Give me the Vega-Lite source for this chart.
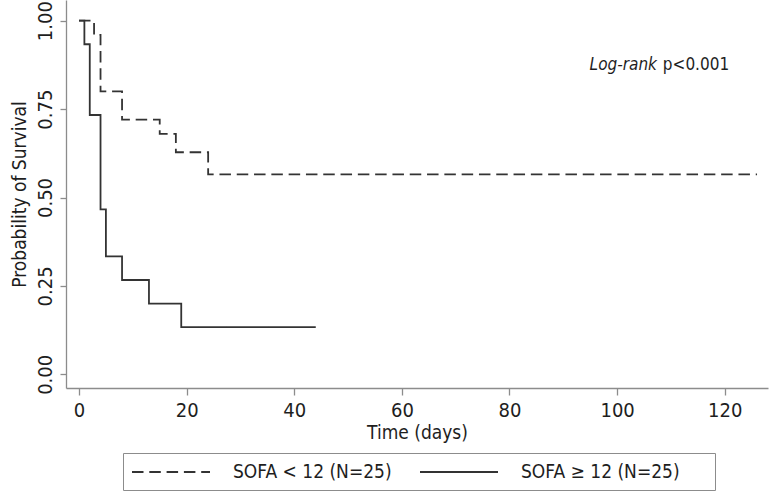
{
  "$schema": "https://vega.github.io/schema/vega-lite/v6.json",
  "width": 702,
  "height": 388,
  "autosize": {"type": "none"},
  "padding": {"left": 66, "top": 0, "right": 3, "bottom": 105},
  "background": "white",
  "config": {
    "font": "DejaVu Sans Condensed, sans-serif",
    "view": {"stroke": null},
    "axis": {
      "domainColor": "#8c8c8c",
      "domainWidth": 1.3,
      "tickColor": "#8c8c8c",
      "tickWidth": 1.3,
      "grid": false,
      "labelColor": "#1e1e1e",
      "titleColor": "#1e1e1e",
      "labelFontSize": 20,
      "titleFontSize": 19,
      "titleFontWeight": "normal",
      "labelFont": "DejaVu Sans Condensed, sans-serif",
      "titleFont": "DejaVu Sans Condensed, sans-serif"
    }
  },
  "layer": [
    {
      "data": {
        "values": [
          {"time": 0, "surv": 1.0, "group": "SOFA < 12 (N=25)"},
          {"time": 2.8, "surv": 0.96, "group": "SOFA < 12 (N=25)"},
          {"time": 4, "surv": 0.8, "group": "SOFA < 12 (N=25)"},
          {"time": 8, "surv": 0.72, "group": "SOFA < 12 (N=25)"},
          {"time": 15, "surv": 0.68, "group": "SOFA < 12 (N=25)"},
          {"time": 18, "surv": 0.628, "group": "SOFA < 12 (N=25)"},
          {"time": 24, "surv": 0.5655, "group": "SOFA < 12 (N=25)"},
          {"time": 126, "surv": 0.5655, "group": "SOFA < 12 (N=25)"},
          {"time": 0, "surv": 1.0, "group": "SOFA ≥ 12 (N=25)"},
          {"time": 1, "surv": 0.9333, "group": "SOFA ≥ 12 (N=25)"},
          {"time": 2, "surv": 0.7333, "group": "SOFA ≥ 12 (N=25)"},
          {"time": 4, "surv": 0.4667, "group": "SOFA ≥ 12 (N=25)"},
          {"time": 5, "surv": 0.3333, "group": "SOFA ≥ 12 (N=25)"},
          {"time": 8, "surv": 0.2667, "group": "SOFA ≥ 12 (N=25)"},
          {"time": 13, "surv": 0.2, "group": "SOFA ≥ 12 (N=25)"},
          {"time": 19, "surv": 0.1333, "group": "SOFA ≥ 12 (N=25)"},
          {"time": 44, "surv": 0.1333, "group": "SOFA ≥ 12 (N=25)"}
        ]
      },
      "mark": {"type": "line", "interpolate": "step-after", "color": "#333333", "strokeWidth": 1.8, "clip": true},
      "encoding": {
        "x": {
          "field": "time",
          "type": "quantitative",
          "scale": {"domain": [-2.416, 128.04], "nice": false, "zero": false},
          "axis": {
            "values": [0, 20, 40, 60, 80, 100, 120],
            "title": "Time (days)",
            "tickSize": 7,
            "labelPadding": 5,
            "titlePadding": 3,
            "labelFlush": false
          }
        },
        "y": {
          "field": "surv",
          "type": "quantitative",
          "scale": {"domain": [-0.0387, 1.0585], "nice": false, "zero": false},
          "axis": {
            "values": [0, 0.25, 0.5, 0.75, 1],
            "format": ".2f",
            "title": "Probability of Survival",
            "tickSize": 6,
            "labelAngle": -90,
            "labelAlign": "center",
            "labelBaseline": "alphabetic",
            "labelPadding": 9,
            "titlePadding": 6,
            "labelFlush": false
          }
        },
        "strokeDash": {
          "field": "group",
          "type": "nominal",
          "scale": {"domain": ["SOFA < 12 (N=25)", "SOFA ≥ 12 (N=25)"], "range": [[11.5, 5.8], [1, 0]]},
          "legend": {
            "title": " ",
            "titleOrient": "right",
            "titlePadding": 27,
            "titleFontSize": 19,
            "orient": "none",
            "legendX": 57,
            "legendY": 453,
            "direction": "horizontal",
            "strokeColor": "#8c8c8c",
            "padding": 8,
            "symbolType": "M-1,0H6.8",
            "symbolSize": 400,
            "symbolStrokeWidth": 1.8,
            "symbolStrokeColor": "#333333",
            "labelFontSize": 19,
            "labelColor": "#1e1e1e",
            "labelFont": "DejaVu Sans Condensed, sans-serif",
            "labelOffset": 80,
            "columnPadding": 24,
            "labelLimit": 400,
            "encode": {
              "symbols": {
                "update": {
                  "strokeDash": {"signal": "datum.value === 'SOFA < 12 (N=25)' ? [8, 5] : [1, 0]"}
                }
              }
            }
          }
        }
      }
    },
    {
      "data": {"values": [{}]},
      "mark": {"type": "text", "align": "right", "baseline": "middle", "fontStyle": "italic", "fontSize": 17, "color": "#1e1e1e", "font": "DejaVu Sans Condensed, sans-serif"},
      "encoding": {
        "x": {"datum": 107.4, "type": "quantitative"},
        "y": {"datum": 0.875, "type": "quantitative"},
        "text": {"value": "Log-rank"}
      }
    },
    {
      "data": {"values": [{}]},
      "mark": {"type": "text", "align": "left", "baseline": "middle", "fontSize": 17, "color": "#1e1e1e", "font": "DejaVu Sans Condensed, sans-serif"},
      "encoding": {
        "x": {"datum": 108.5, "type": "quantitative"},
        "y": {"datum": 0.875, "type": "quantitative"},
        "text": {"value": "p<0.001"}
      }
    }
  ]
}
